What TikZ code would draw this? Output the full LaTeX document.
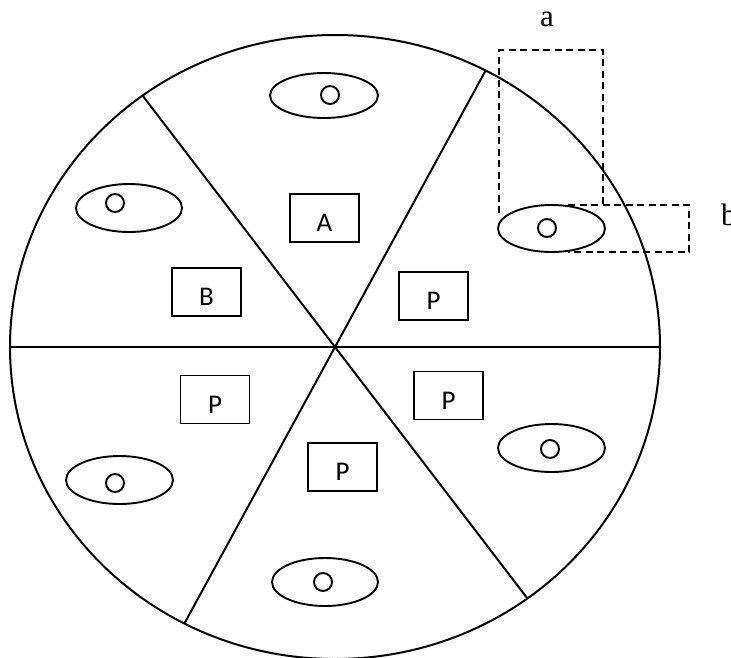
\documentclass[tikz,border=0pt]{standalone}
\usepackage{fontspec}
\setmainfont{Liberation Serif}
\newfontfamily\boxfont{Carlito}
\usetikzlibrary{shapes.geometric}
\begin{document}
\begin{tikzpicture}[x=1pt,y=-1pt,
  rim/.style={draw, line width=2pt},
  roombox/.style={draw, line width=1.9pt, rectangle, minimum width=69pt, minimum height=48pt,
    inner sep=0pt, font=\boxfont\fontsize{27}{27}\selectfont, text height=27.4pt, text depth=0pt},
  oval/.style={draw, fill=white, line width=1.9pt, ellipse, minimum width=107pt,
    minimum height=47pt, inner sep=0pt},
  hole/.style={draw, circle, line width=1.9pt, minimum size=18pt, inner sep=0pt},
  zone/.style={draw, line width=1.6pt, dash pattern=on 7pt off 4.5pt},
  tag/.style={font=\fontsize{31}{31}\selectfont, inner sep=0pt}
]
\useasboundingbox (0,0) rectangle (731,657);
\fill[white] (0,0) rectangle (731,657);
% outer circle and dividing lines
\coordinate (c) at (335,347);
\draw[rim] (c) ellipse [x radius=325pt, y radius=312pt];
\coordinate (ul) at (142.6,95.6);
\coordinate (lr) at (527.4,598.4);
\coordinate (ur) at (485.6,70.5);
\coordinate (ll) at (184.4,623.5);
\coordinate (w) at (10,347);
\coordinate (e) at (660,347);
\draw[rim] (ul) -- (c) -- (lr);
\draw[rim] (ur) -- (c) -- (ll);
\draw[rim] (w) -- (c) -- (e);
% dashed zones
\draw[zone] (499,213) -- (499,50) -- (603,50) -- (603,207);
\draw[zone] (568,205) -- (689,205) -- (689,252) -- (568,252);
% labels
\node[tag, anchor=base] (la) at (547,26) {a};
\node[tag, anchor=base west] (lb) at (721,225) {b};
% boxes
\node[roombox] (bA) at (324.5,218) {A};
\node[roombox] (bB) at (206.5,292) {B};
\node[roombox] (bP1) at (433.5,296) {P};
\node[roombox] (bP2) at (215,399.5) {P};
\node[roombox] (bP3) at (448.5,395.5) {P};
\node[roombox] (bP4) at (342.5,467) {P};
% ovals with holes
\node[oval, minimum width=108pt, minimum height=45pt] (e1) at (324,95.5) {};
\node[hole] (o1) at (330,95) {};
\node[oval, minimum width=106pt, minimum height=48pt] (e2) at (129,208) {};
\node[hole] (o2) at (115,203) {};
\node[oval] (e3) at (551.5,228.5) {};
\node[hole] (o3) at (547,228) {};
\node[oval, minimum height=48pt] (e4) at (551.5,448) {};
\node[hole] (o4) at (550,449) {};
\node[oval, minimum height=48pt] (e5) at (119.5,480) {};
\node[hole] (o5) at (115,483) {};
\node[oval, minimum width=106pt, minimum height=48pt] (e6) at (325,582) {};
\node[hole] (o6) at (323,582) {};
\end{tikzpicture}
\end{document}
